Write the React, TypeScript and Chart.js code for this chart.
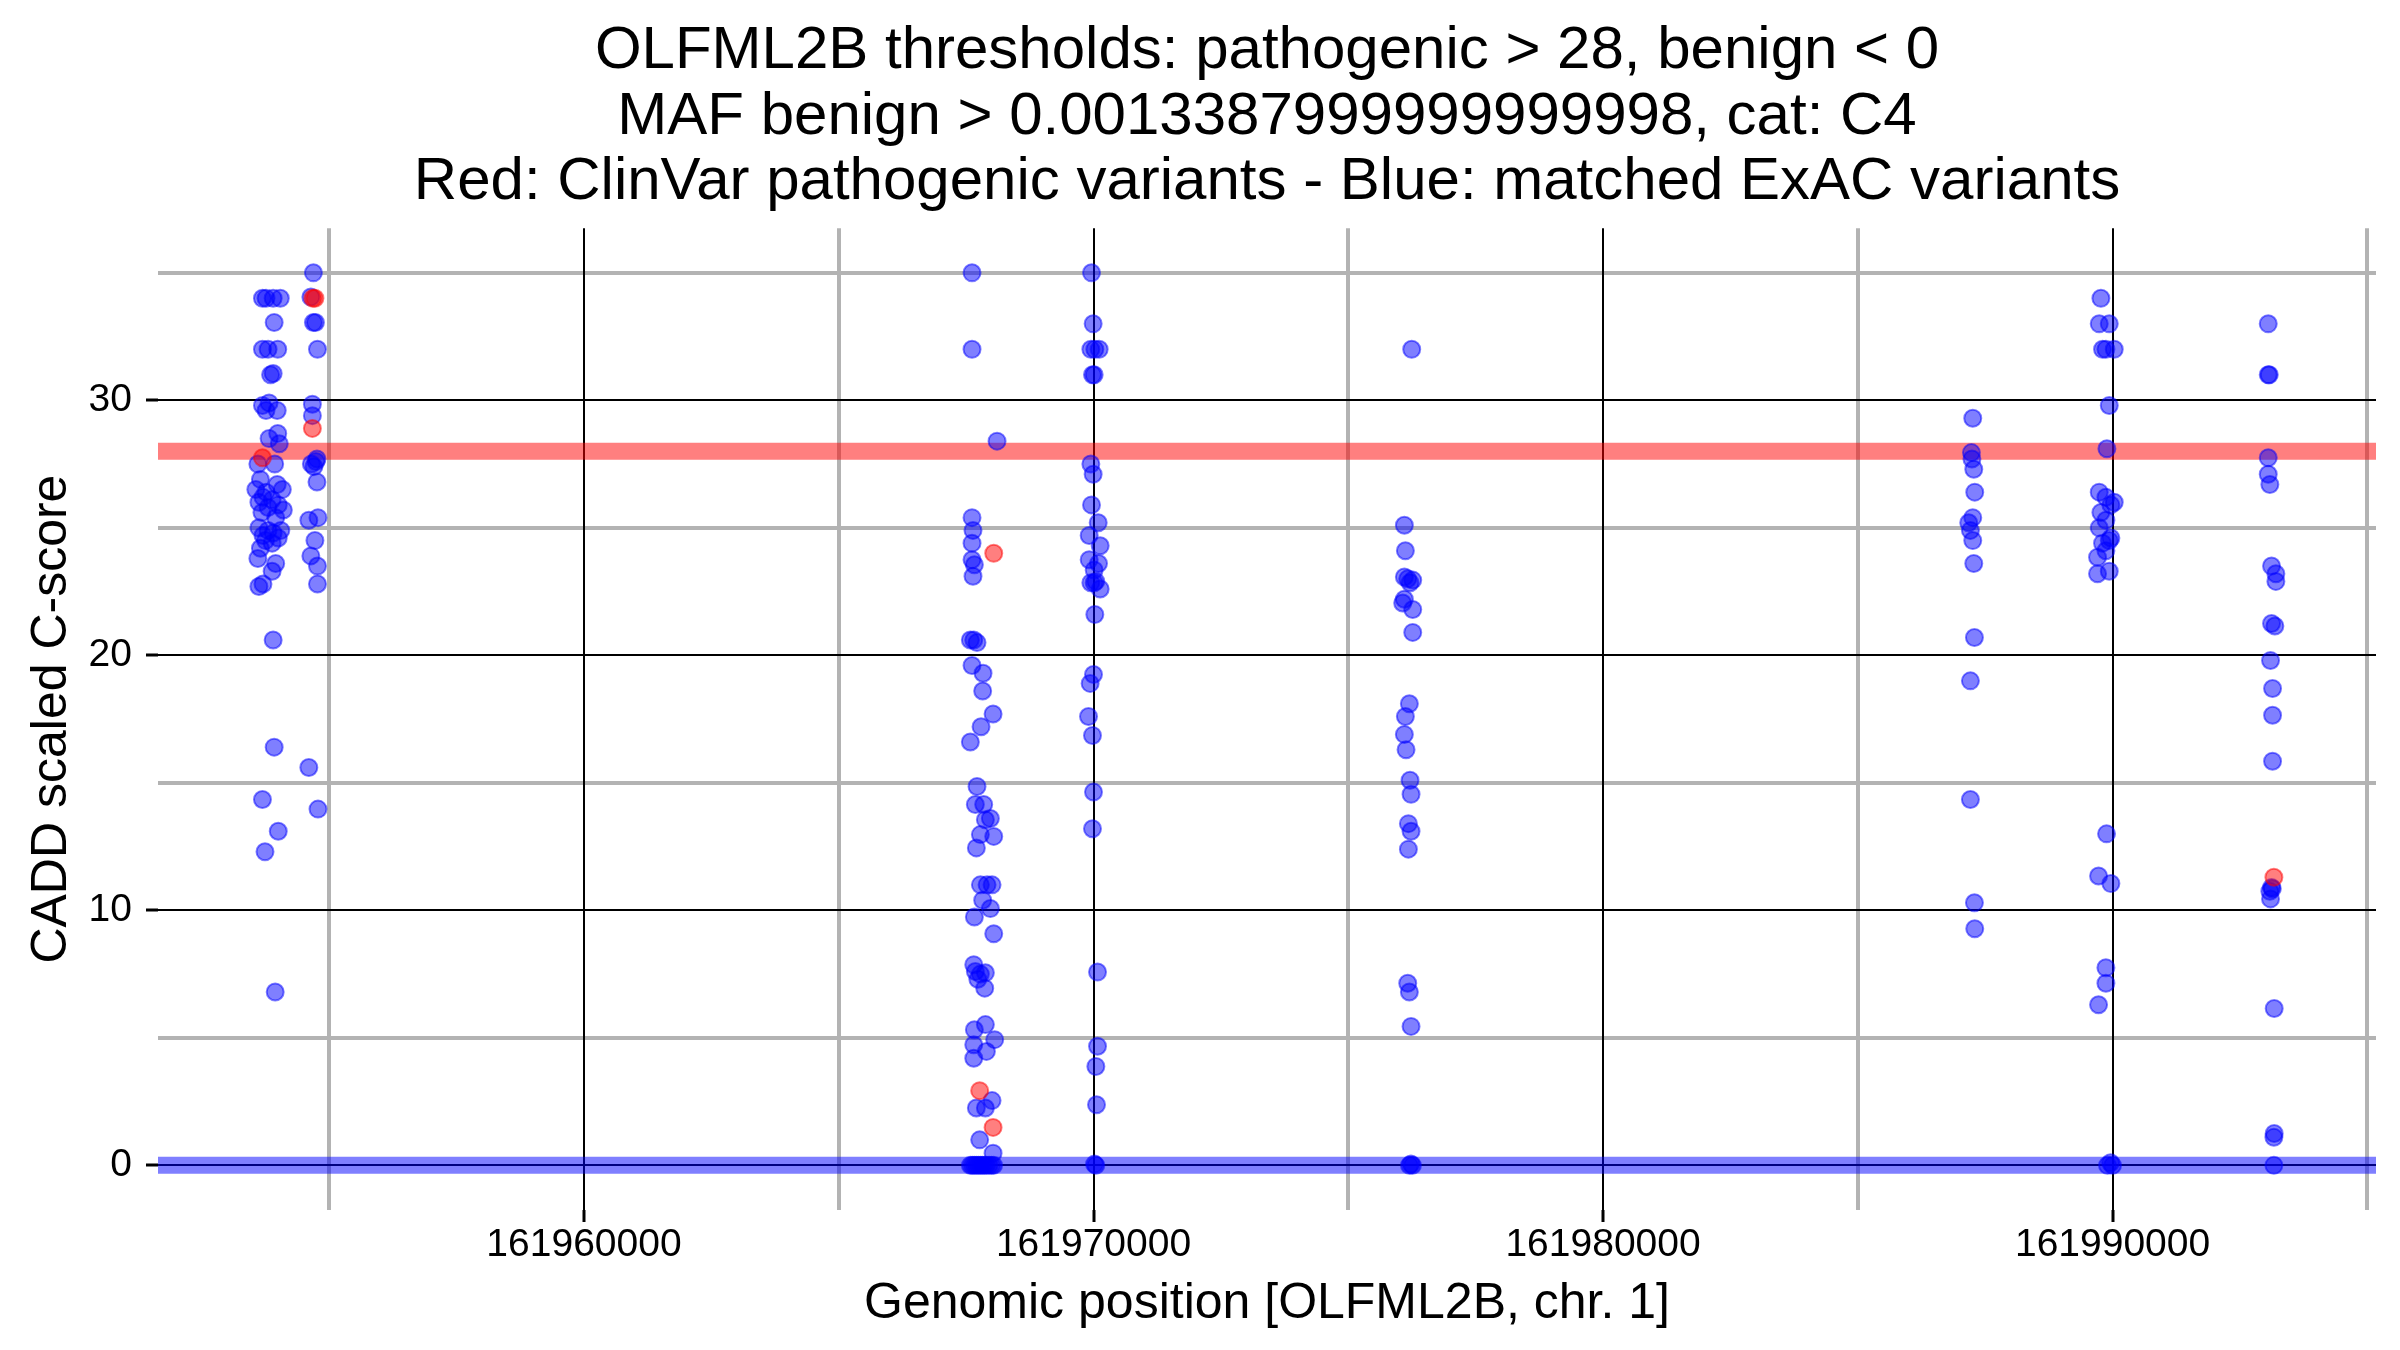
import React, { useEffect, useRef } from 'react';
import { Chart, registerables } from 'chart.js';

Chart.register(...registerables);

const FONT = "'Liberation Sans', Arial, Helvetica, sans-serif";

const titleLines = [
  'OLFML2B thresholds: pathogenic > 28, benign < 0',
  'MAF benign > 0.0013387999999999998, cat: C4',
  'Red: ClinVar pathogenic variants - Blue: matched ExAC variants',
];
const xAxisTitle = 'Genomic position [OLFML2B, chr. 1]';
const yAxisTitle = 'CADD scaled C-score';

const X_MIN = 161951640;
const X_MAX = 161995170;
const Y_MIN = -1.75;
const Y_MAX = 36.75;

const xMajorTicks = [161960000, 161970000, 161980000, 161990000];
const xMinorTicks = [161955000, 161965000, 161975000, 161985000, 161995000];
const yMajorTicks = [0, 10, 20, 30];
const yMinorTicks = [5, 15, 25, 35];

const pathogenicThreshold = 28;
const benignThreshold = 0;

// [genomic position, CADD score] — matched ExAC variants (blue)
const exacClusterA: [number, number][] = [
  [161953690, 34], [161953760, 34], [161953900, 34], [161954040, 34], [161953920, 33.05],
  [161953690, 32], [161953800, 32], [161953990, 32], [161953850, 31], [161953900, 31.05],
  [161953690, 29.8], [161953820, 29.9], [161953980, 29.6], [161953760, 29.6], [161953990, 28.7],
  [161953820, 28.5], [161954020, 28.3], [161953600, 27.5], [161953930, 27.5], [161953650, 26.9],
  [161953980, 26.7], [161953560, 26.5], [161953760, 26.4], [161954080, 26.5], [161953700, 26.2],
  [161953880, 26.1], [161953620, 26.0], [161954000, 25.9], [161953800, 25.8], [161954100, 25.7],
  [161953680, 25.6], [161953950, 25.4], [161953620, 25.0], [161953800, 24.9], [161953900, 24.8],
  [161953700, 24.7], [161954000, 24.6], [161953750, 24.5], [161953880, 24.4], [161953650, 24.2],
  [161954050, 24.9], [161953600, 23.8], [161953880, 23.3], [161953950, 23.6], [161953620, 22.7],
  [161953700, 22.8], [161953900, 20.6], [161953920, 16.4], [161953690, 14.35], [161954000, 13.1],
  [161953740, 12.3], [161953940, 6.8],
];
const exacClusterB: [number, number][] = [
  [161954690, 35], [161954640, 34.05], [161954690, 33.05], [161954730, 33.05], [161954770, 32],
  [161954670, 29.85], [161954670, 29.4], [161954760, 27.7], [161954650, 27.5], [161954700, 27.4],
  [161954740, 27.6], [161954760, 26.8], [161954600, 25.3], [161954780, 25.4], [161954720, 24.5],
  [161954640, 23.9], [161954770, 23.5], [161954770, 22.8], [161954600, 15.6], [161954780, 13.97],
];
const exacClusterC: [number, number][] = [
  [161967616, 35], [161967616, 32], [161968107, 28.4], [161967616, 25.4], [161967635, 24.9],
  [161967616, 24.4], [161967616, 23.75], [161967662, 23.55], [161967635, 23.1], [161967583, 20.6],
  [161967650, 20.6], [161967714, 20.5], [161967616, 19.6], [161967832, 19.3], [161967825, 18.6],
  [161968029, 17.7], [161967793, 17.2], [161967583, 16.6], [161967714, 14.86], [161967681, 14.15],
  [161967845, 14.15], [161967976, 13.6], [161967878, 13.55], [161967780, 12.97], [161968042, 12.9],
  [161967701, 12.45], [161967780, 11.0], [161967911, 11.0], [161968009, 11.0], [161967825, 10.4],
  [161967976, 10.07], [161967662, 9.74], [161968042, 9.08], [161967650, 7.87], [161967681, 7.6],
  [161967780, 7.5], [161967878, 7.55], [161967730, 7.3], [161967865, 6.95], [161967878, 5.52],
  [161967662, 5.32], [161968061, 4.93], [161967650, 4.73], [161967898, 4.47], [161967650, 4.2],
  [161968009, 2.54], [161967701, 2.25], [161967878, 2.25], [161967766, 1.0], [161968029, 0.48],
  [161967583, 0], [161967620, 0], [161967660, 0], [161967700, 0], [161967740, 0], [161967780, 0],
  [161967820, 0], [161967860, 0], [161967900, 0], [161967950, 0], [161968000, 0], [161968040, 0],
];
const exacClusterD: [number, number][] = [
  [161969961, 35], [161969993, 33], [161969948, 32], [161970026, 32], [161970111, 32],
  [161969980, 31], [161970013, 31], [161969948, 27.5], [161969993, 27.1], [161969961, 25.9],
  [161970092, 25.2], [161969915, 24.7], [161970131, 24.3], [161969915, 23.75], [161970098, 23.6],
  [161970013, 23.35], [161969948, 22.85], [161970013, 22.85], [161970046, 22.9], [161970131, 22.6],
  [161970026, 21.6], [161970000, 19.25], [161969934, 18.9], [161969902, 17.6], [161969980, 16.86],
  [161970000, 14.64], [161969980, 13.2], [161970079, 7.58], [161970079, 4.67], [161970046, 3.88],
  [161970059, 2.38], [161970046, 0], [161970020, 0.05],
];
const exacClusterE: [number, number][] = [
  [161976245, 32], [161976101, 25.1], [161976121, 24.1], [161976101, 23.07], [161976265, 22.95],
  [161976167, 23.0], [161976212, 22.85], [161976101, 22.2], [161976068, 22.05], [161976265, 21.8],
  [161976265, 20.9], [161976199, 18.1], [161976121, 17.6], [161976101, 16.9], [161976134, 16.3],
  [161976212, 15.1], [161976232, 14.55], [161976180, 13.4], [161976232, 13.1], [161976180, 12.4],
  [161976167, 7.14], [161976199, 6.8], [161976232, 5.45], [161976200, 0], [161976260, 0],
  [161976230, 0.05],
];
const exacClusterF: [number, number][] = [
  [161987256, 29.3], [161987230, 27.95], [161987240, 27.7], [161987276, 27.3], [161987295, 26.4],
  [161987256, 25.4], [161987177, 25.2], [161987210, 24.9], [161987256, 24.5], [161987276, 23.6],
  [161987289, 20.7], [161987210, 19.0], [161987210, 14.35], [161987289, 10.3], [161987295, 9.28],
];
const exacClusterG: [number, number][] = [
  [161989771, 34], [161989738, 33], [161989935, 33], [161989803, 32], [161989869, 32],
  [161990033, 32], [161989935, 29.8], [161989889, 28.1], [161989738, 26.4], [161989869, 26.2],
  [161990033, 26.0], [161989967, 25.9], [161989771, 25.6], [161989869, 25.3], [161989738, 25.0],
  [161989967, 24.6], [161989803, 24.4], [161989935, 24.5], [161989869, 24.1], [161989705, 23.85],
  [161989705, 23.2], [161989935, 23.3], [161989882, 13.0], [161989725, 11.35], [161989967, 11.05],
  [161989869, 7.75], [161989869, 7.14], [161989725, 6.3], [161989900, 0], [161989960, 0.1],
  [161990000, 0],
];
const exacClusterH: [number, number][] = [
  [161993055, 33], [161993055, 31], [161993075, 31], [161993055, 27.75], [161993055, 27.1],
  [161993087, 26.7], [161993120, 23.5], [161993205, 23.2], [161993205, 22.9], [161993120, 21.25],
  [161993185, 21.15], [161993100, 19.8], [161993140, 18.7], [161993140, 17.65], [161993140, 15.85],
  [161993120, 10.9], [161993087, 10.75], [161993100, 10.45], [161993135, 10.85], [161993172, 6.15],
  [161993172, 1.25], [161993166, 1.1], [161993166, 0],
];

// [genomic position, CADD score] — ClinVar pathogenic variants (red)
const clinvarVariants: [number, number][] = [
  [161953690, 27.75], [161954680, 34], [161954720, 34], [161954670, 28.9],
  [161968042, 24.0], [161967766, 2.93], [161968029, 1.49], [161993166, 11.3],
];

const exacVariants = [
  ...exacClusterA, ...exacClusterB, ...exacClusterC, ...exacClusterD,
  ...exacClusterE, ...exacClusterF, ...exacClusterG, ...exacClusterH,
];

export default function App() {
  const ref = useRef<HTMLCanvasElement>(null);

  useEffect(() => {
    document.body.style.margin = '0';
    const canvas = ref.current;
    if (!canvas) return;

    const toPts = (arr: [number, number][]) => arr.map(([x, y]) => ({ x, y }));

    const chart = new Chart(canvas, {
      type: 'scatter',
      data: {
        datasets: [
          {
            label: 'ClinVar pathogenic',
            data: toPts(clinvarVariants),
            backgroundColor: 'rgba(255,0,0,0.5)',
            borderColor: 'rgba(255,0,0,0.5)',
            borderWidth: 2,
            pointRadius: 8.5,
          },
          {
            label: 'matched ExAC',
            data: toPts(exacVariants),
            backgroundColor: 'rgba(0,0,255,0.5)',
            borderColor: 'rgba(0,0,255,0.5)',
            borderWidth: 2,
            pointRadius: 8.5,
          },
          {
            label: 'pathogenic threshold',
            data: [{ x: X_MIN, y: pathogenicThreshold }, { x: X_MAX, y: pathogenicThreshold }],
            showLine: true,
            borderColor: 'rgba(255,0,0,0.5)',
            borderWidth: 17,
            borderCapStyle: 'butt',
            pointRadius: 0,
            fill: false,
            clip: 0,
          },
          {
            label: 'benign threshold',
            data: [{ x: X_MIN, y: benignThreshold }, { x: X_MAX, y: benignThreshold }],
            showLine: true,
            borderColor: 'rgba(0,0,255,0.5)',
            borderWidth: 17,
            borderCapStyle: 'butt',
            pointRadius: 0,
            fill: false,
            clip: 0,
          },
        ],
      } as any,
      options: {
        animation: false,
        responsive: false,
        devicePixelRatio: 1,
        events: [],
        layout: { padding: 0 },
        plugins: {
          legend: { display: false },
          tooltip: { enabled: false },
          title: {
            display: true,
            text: titleLines,
            fullSize: false,
            color: '#000',
            font: { family: FONT, size: 60, weight: 'normal', lineHeight: 1.09 },
            padding: { top: 19, bottom: 13 },
          },
        },
        scales: {
          x: {
            type: 'linear',
            position: 'bottom',
            min: X_MIN,
            max: X_MAX,
            afterBuildTicks: (s: any) => { s.ticks = xMajorTicks.map((v) => ({ value: v })); },
            afterFit: (s: any) => { s.height = 140; },
            grid: { color: '#000', lineWidth: 2, z: -1, drawTicks: true, tickLength: 12, tickWidth: 3, tickColor: '#000' },
            border: { display: false },
            ticks: {
              color: '#000',
              font: { family: FONT, size: 39 },
              padding: 0,
              maxRotation: 0,
              autoSkip: false,
              callback: (v: any) => String(v),
            },
            title: {
              display: true,
              text: xAxisTitle,
              color: '#000',
              font: { family: FONT, size: 50, lineHeight: 1.2 },
              padding: { top: 0, bottom: 16 },
            },
          },
          xMinor: {
            type: 'linear',
            axis: 'x',
            position: 'bottom',
            min: X_MIN,
            max: X_MAX,
            afterBuildTicks: (s: any) => { s.ticks = xMinorTicks.map((v) => ({ value: v })); },
            afterFit: (s: any) => { s.height = 0; },
            grid: { color: '#b3b3b3', lineWidth: 4, z: -2, drawTicks: false },
            border: { display: false },
            ticks: { display: false },
          },
          y: {
            type: 'linear',
            position: 'left',
            min: Y_MIN,
            max: Y_MAX,
            afterBuildTicks: (s: any) => { s.ticks = yMajorTicks.map((v) => ({ value: v })); },
            afterFit: (s: any) => { s.width = 158; },
            grid: { color: '#000', lineWidth: 2, z: -1, drawTicks: true, tickLength: 12, tickWidth: 3, tickColor: '#000' },
            border: { display: false },
            ticks: {
              color: '#000',
              font: { family: FONT, size: 39 },
              padding: 14,
              autoSkip: false,
              callback: (v: any) => String(v),
            },
            title: {
              display: true,
              text: yAxisTitle,
              color: '#000',
              font: { family: FONT, size: 50, lineHeight: 1.2 },
              padding: { top: 22, bottom: 0 },
            },
          },
          yMinor: {
            type: 'linear',
            axis: 'y',
            position: 'left',
            min: Y_MIN,
            max: Y_MAX,
            afterBuildTicks: (s: any) => { s.ticks = yMinorTicks.map((v) => ({ value: v })); },
            afterFit: (s: any) => { s.width = 0; },
            grid: { color: '#b3b3b3', lineWidth: 4, z: -2, drawTicks: false },
            border: { display: false },
            ticks: { display: false },
          },
          yRightMargin: {
            type: 'linear',
            axis: 'y',
            position: 'right',
            min: Y_MIN,
            max: Y_MAX,
            afterFit: (s: any) => { s.width = 24; },
            grid: { display: false, drawTicks: false },
            border: { display: false },
            ticks: { display: false },
          },
        },
      } as any,
    });

    return () => chart.destroy();
  }, []);

  return (
    <canvas
      ref={ref}
      width={2400}
      height={1350}
      style={{ display: 'block', width: '2400px', height: '1350px' }}
    />
  );
}
